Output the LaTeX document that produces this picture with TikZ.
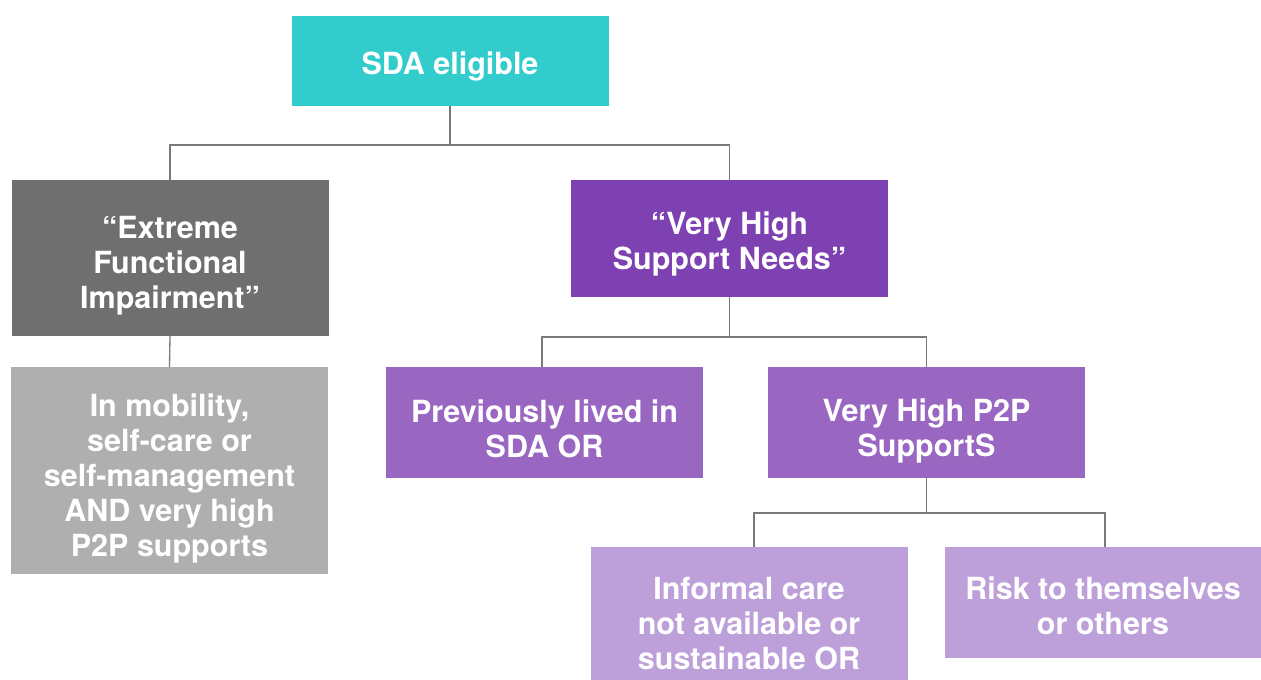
\documentclass[tikz,border=0pt]{standalone}
\usepackage{fontspec}
\setmainfont{TeX Gyre Heros}
\definecolor{cteal}{HTML}{32CCCC}
\definecolor{cdgrey}{HTML}{6F6F6F}
\definecolor{clgrey}{HTML}{AFAFAF}
\definecolor{cdpurp}{HTML}{7E41B1}
\definecolor{cmpurp}{HTML}{9966C2}
\definecolor{clpurp}{HTML}{BDA0DA}
\definecolor{cline}{HTML}{7A7A7A}
\tikzset{
  box/.style={draw=none, inner sep=0pt, minimum width=317pt},
  lab/.style={text=white, align=center, inner sep=0pt,
    font=\bfseries\fontsize{30.5}{35}\selectfont},
  conn/.style={draw=cline, line width=1.3pt},
}
\begin{document}
\begin{tikzpicture}[x=1pt,y=-1pt]
\useasboundingbox (0,0) rectangle (1261,680);
\node[box, fill=cteal, minimum height=90pt, label={[lab,yshift=-5pt]center:SDA eligible}] (sda) at (450,61) {};
\node[box, fill=cdgrey, minimum height=156pt, label={[lab,yshift=-8pt]center:“Extreme\\Functional\\Impairment”}] (efi) at (170,258) {};
\node[box, fill=cdpurp, minimum height=117pt, label={[lab,yshift=-5pt]center:“Very High\\Support Needs”}] (vhsn) at (729.5,238.5) {};
\node[box, fill=clgrey, minimum height=207pt, label={[lab,yshift=-8pt]center:In mobility,\\self-care or\\self-management\\AND very high\\P2P supports}] (mob) at (169.5,470.5) {};
\node[box, fill=cmpurp, minimum height=111pt, label={[lab,yshift=-6pt]center:Previously lived in\\SDA OR}] (prev) at (544.5,422.5) {};
\node[box, fill=cmpurp, minimum height=111pt, label={[lab,yshift=-8pt]center:Very High P2P\\SupportS}] (p2p) at (926.5,422.5) {};
\node[box, fill=clpurp, minimum height=160pt, label={[lab,yshift=3pt]center:Informal care\\not available or\\sustainable OR}] (inf) at (749,627) {};
\node[box, fill=clpurp, minimum height=111pt, label={[lab,yshift=-3pt]center:Risk to themselves\\or others}] (risk) at (1103,602.5) {};
\coordinate (j1) at (450,145);
\coordinate (j2) at (729.5,337);
\coordinate (j3) at (926.5,513);
\draw[conn] (sda.south) -- (j1);
\draw[conn] (efi.north) |- (j1) -| (vhsn.north);
\draw[conn] (efi.south) -- (mob.north);
\draw[conn] (vhsn.south) -- (j2);
\draw[conn] (prev.north -| 542,0) |- (j2) -| (p2p.north);
\draw[conn] (p2p.south) -- (j3);
\draw[conn] (inf.north -| 754,0) |- (j3) -| (risk.north -| 1105,0);
\end{tikzpicture}
\end{document}
